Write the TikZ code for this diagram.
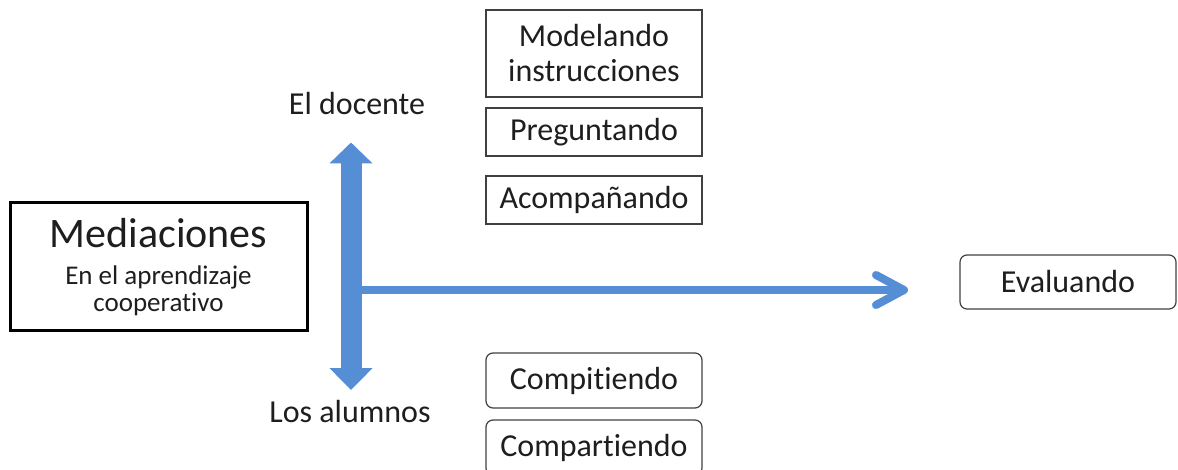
\documentclass[tikz,border=0pt]{standalone}
\usepackage{fontspec}
\setmainfont{Carlito}[Ligatures=NoCommon]
\usetikzlibrary{arrows.meta}
\definecolor{arrowblue}{RGB}{85,142,213}
\definecolor{boxline}{RGB}{64,64,64}
\definecolor{txt}{RGB}{30,30,30}
\begin{document}
\begin{tikzpicture}[x=1pt,y=-1pt,
  sqbox/.style={draw=boxline, line width=1.2pt, minimum width=216pt, inner sep=0pt, align=center, text=txt, font=\fontsize{32}{35}\selectfont},
  rbox/.style={sqbox, rounded corners=7pt},
  lbl/.style={inner sep=0pt, text=txt, font=\fontsize{32}{36}\selectfont},
  bluearrow/.style={draw=arrowblue, fill=arrowblue}]
\useasboundingbox (0,0) rectangle (1178,470);
\node[draw=black, line width=3pt, minimum width=297pt, minimum height=128pt, align=center, text=txt, inner sep=0pt, font=\fontsize{27}{27}\selectfont] (med) at (158.5,267)
  {\raisebox{-3pt}{\fontsize{42}{44}\selectfont Mediaciones}\\[13pt]En el aprendizaje\\cooperativo};
\node[sqbox, minimum height=87pt] (mod) at (594,53.5) {Modelando\\instrucciones};
\node[sqbox, minimum height=48pt] (preg) at (594,132) {\raisebox{-2pt}{Preguntando}};
\node[sqbox, minimum height=48pt] (acom) at (594,200) {\raisebox{-2pt}{Acompañando}};
\node[rbox, minimum height=55pt] (comp) at (594,380.5) {\raisebox{-2pt}{Compitiendo}};
\node[rbox, minimum height=55pt] (compa) at (594,447.5) {\raisebox{-2pt}{Compartiendo}};
\node[rbox, minimum height=54pt] (eval) at (1068,282) {\raisebox{-2pt}{Evaluando}};
\node[lbl] (doc) at (357,104) {El docente};
\node[lbl] (alu) at (350,412) {Los alumnos};
\coordinate (vtop) at (351,142.5);
\coordinate (vbot) at (351,390);
\coordinate (hstart) at (351,290);
\coordinate (hend) at (908,290);
\draw[arrowblue, line width=21pt, {Triangle[width=42pt,length=21pt]}-{Triangle[width=42pt,length=22pt]}] (vtop) -- (vbot);
\draw[arrowblue, line width=8pt, line cap=round, -{Straight Barb[length=28pt,width=30pt,round]}] (hstart) -- (hend);
\end{tikzpicture}
\end{document}
